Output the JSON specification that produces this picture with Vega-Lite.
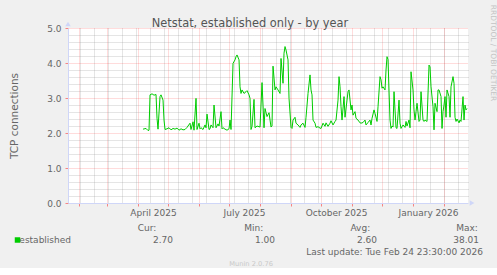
{
  "$schema": "https://vega.github.io/schema/vega-lite/v6.json",
  "background": "#f0f0f0",
  "padding": {"left": 9, "top": 4, "right": 8, "bottom": 0},
  "config": {"font": "DejaVu Sans", "view": {"stroke": null}},
  "bounds": "flush",
  "spacing": 25,
  "datasets": {
    "netstat": [
      {"date": "2025-04-06", "connections": 2.11}, {"date": "2025-04-09", "connections": 2.13}, {"date": "2025-04-11", "connections": 2.07}, {"date": "2025-04-12", "connections": 2.08},
      {"date": "2025-04-13", "connections": 3.09}, {"date": "2025-04-15", "connections": 3.12}, {"date": "2025-04-17", "connections": 3.08}, {"date": "2025-04-19", "connections": 3.10},
      {"date": "2025-04-20", "connections": 2.42}, {"date": "2025-04-21", "connections": 2.11}, {"date": "2025-04-23", "connections": 3.04}, {"date": "2025-04-24", "connections": 3.09},
      {"date": "2025-04-26", "connections": 2.94}, {"date": "2025-04-27", "connections": 2.37}, {"date": "2025-04-28", "connections": 2.10}, {"date": "2025-04-30", "connections": 2.12},
      {"date": "2025-05-02", "connections": 2.15}, {"date": "2025-05-04", "connections": 2.09}, {"date": "2025-05-06", "connections": 2.13}, {"date": "2025-05-08", "connections": 2.11},
      {"date": "2025-05-10", "connections": 2.14}, {"date": "2025-05-12", "connections": 2.08}, {"date": "2025-05-14", "connections": 2.12}, {"date": "2025-05-16", "connections": 2.09},
      {"date": "2025-05-18", "connections": 2.10}, {"date": "2025-05-20", "connections": 2.16}, {"date": "2025-05-23", "connections": 2.28}, {"date": "2025-05-24", "connections": 2.10},
      {"date": "2025-05-26", "connections": 2.32}, {"date": "2025-05-27", "connections": 2.08}, {"date": "2025-05-29", "connections": 2.99}, {"date": "2025-05-30", "connections": 2.10},
      {"date": "2025-06-01", "connections": 2.28}, {"date": "2025-06-02", "connections": 2.12}, {"date": "2025-06-03", "connections": 2.15}, {"date": "2025-06-05", "connections": 2.10},
      {"date": "2025-06-07", "connections": 2.23}, {"date": "2025-06-08", "connections": 2.15}, {"date": "2025-06-09", "connections": 2.54}, {"date": "2025-06-11", "connections": 2.10},
      {"date": "2025-06-12", "connections": 2.12}, {"date": "2025-06-13", "connections": 2.23}, {"date": "2025-06-15", "connections": 2.15}, {"date": "2025-06-16", "connections": 2.80},
      {"date": "2025-06-18", "connections": 2.15}, {"date": "2025-06-20", "connections": 2.26}, {"date": "2025-06-21", "connections": 2.20}, {"date": "2025-06-23", "connections": 2.61},
      {"date": "2025-06-24", "connections": 2.12}, {"date": "2025-06-25", "connections": 2.15}, {"date": "2025-06-27", "connections": 2.11}, {"date": "2025-06-29", "connections": 2.08},
      {"date": "2025-07-01", "connections": 2.12}, {"date": "2025-07-02", "connections": 2.37}, {"date": "2025-07-03", "connections": 2.10}, {"date": "2025-07-05", "connections": 3.99},
      {"date": "2025-07-07", "connections": 4.09}, {"date": "2025-07-08", "connections": 4.18}, {"date": "2025-07-09", "connections": 4.23}, {"date": "2025-07-11", "connections": 4.09},
      {"date": "2025-07-12", "connections": 3.32}, {"date": "2025-07-13", "connections": 3.13}, {"date": "2025-07-14", "connections": 3.23}, {"date": "2025-07-16", "connections": 3.13},
      {"date": "2025-07-18", "connections": 3.18}, {"date": "2025-07-19", "connections": 3.21}, {"date": "2025-07-21", "connections": 3.09}, {"date": "2025-07-22", "connections": 2.99},
      {"date": "2025-07-23", "connections": 2.10}, {"date": "2025-07-24", "connections": 2.19}, {"date": "2025-07-26", "connections": 2.96}, {"date": "2025-07-27", "connections": 2.15},
      {"date": "2025-07-29", "connections": 2.20}, {"date": "2025-07-30", "connections": 2.19}, {"date": "2025-08-01", "connections": 2.17}, {"date": "2025-08-03", "connections": 3.44},
      {"date": "2025-08-05", "connections": 2.15}, {"date": "2025-08-06", "connections": 2.70}, {"date": "2025-08-08", "connections": 2.47}, {"date": "2025-08-10", "connections": 2.58},
      {"date": "2025-08-12", "connections": 2.17}, {"date": "2025-08-13", "connections": 2.20}, {"date": "2025-08-14", "connections": 3.91}, {"date": "2025-08-16", "connections": 3.23},
      {"date": "2025-08-17", "connections": 3.32}, {"date": "2025-08-19", "connections": 3.23}, {"date": "2025-08-21", "connections": 3.13}, {"date": "2025-08-22", "connections": 4.13},
      {"date": "2025-08-24", "connections": 3.42}, {"date": "2025-08-25", "connections": 4.28}, {"date": "2025-08-26", "connections": 4.47}, {"date": "2025-08-27", "connections": 4.37},
      {"date": "2025-08-29", "connections": 4.09}, {"date": "2025-08-30", "connections": 2.99}, {"date": "2025-09-01", "connections": 2.16}, {"date": "2025-09-02", "connections": 2.13},
      {"date": "2025-09-03", "connections": 2.37}, {"date": "2025-09-05", "connections": 2.45}, {"date": "2025-09-06", "connections": 2.28}, {"date": "2025-09-08", "connections": 2.23},
      {"date": "2025-09-10", "connections": 2.16}, {"date": "2025-09-11", "connections": 2.23}, {"date": "2025-09-13", "connections": 2.28}, {"date": "2025-09-15", "connections": 2.16},
      {"date": "2025-09-16", "connections": 2.45}, {"date": "2025-09-18", "connections": 3.13}, {"date": "2025-09-20", "connections": 3.66}, {"date": "2025-09-21", "connections": 3.23},
      {"date": "2025-09-22", "connections": 3.09}, {"date": "2025-09-23", "connections": 2.37}, {"date": "2025-09-25", "connections": 2.28}, {"date": "2025-09-26", "connections": 2.16},
      {"date": "2025-09-28", "connections": 2.18}, {"date": "2025-09-30", "connections": 2.14}, {"date": "2025-10-01", "connections": 2.13}, {"date": "2025-10-03", "connections": 2.28},
      {"date": "2025-10-05", "connections": 2.19}, {"date": "2025-10-06", "connections": 2.29}, {"date": "2025-10-08", "connections": 2.19}, {"date": "2025-10-10", "connections": 2.28},
      {"date": "2025-10-11", "connections": 2.35}, {"date": "2025-10-13", "connections": 2.23}, {"date": "2025-10-15", "connections": 2.33}, {"date": "2025-10-16", "connections": 2.37},
      {"date": "2025-10-18", "connections": 2.94}, {"date": "2025-10-19", "connections": 3.61}, {"date": "2025-10-20", "connections": 3.32}, {"date": "2025-10-21", "connections": 2.75},
      {"date": "2025-10-22", "connections": 2.37}, {"date": "2025-10-24", "connections": 3.04}, {"date": "2025-10-25", "connections": 2.45}, {"date": "2025-10-27", "connections": 2.94},
      {"date": "2025-10-28", "connections": 3.18}, {"date": "2025-10-29", "connections": 3.23}, {"date": "2025-10-31", "connections": 2.66}, {"date": "2025-11-01", "connections": 2.80},
      {"date": "2025-11-02", "connections": 2.51}, {"date": "2025-11-04", "connections": 2.61}, {"date": "2025-11-05", "connections": 2.42}, {"date": "2025-11-07", "connections": 2.37},
      {"date": "2025-11-09", "connections": 2.29}, {"date": "2025-11-10", "connections": 2.28}, {"date": "2025-11-12", "connections": 2.30}, {"date": "2025-11-14", "connections": 2.37},
      {"date": "2025-11-15", "connections": 2.23}, {"date": "2025-11-17", "connections": 2.30}, {"date": "2025-11-19", "connections": 2.37}, {"date": "2025-11-20", "connections": 2.23},
      {"date": "2025-11-21", "connections": 2.42}, {"date": "2025-11-23", "connections": 2.66}, {"date": "2025-11-24", "connections": 2.56}, {"date": "2025-11-26", "connections": 2.33},
      {"date": "2025-11-27", "connections": 2.75}, {"date": "2025-11-29", "connections": 3.61}, {"date": "2025-11-30", "connections": 3.52}, {"date": "2025-12-01", "connections": 3.28},
      {"date": "2025-12-02", "connections": 3.32}, {"date": "2025-12-04", "connections": 3.23}, {"date": "2025-12-05", "connections": 3.80}, {"date": "2025-12-06", "connections": 4.18},
      {"date": "2025-12-07", "connections": 4.10}, {"date": "2025-12-08", "connections": 3.20}, {"date": "2025-12-09", "connections": 2.37}, {"date": "2025-12-10", "connections": 2.13},
      {"date": "2025-12-11", "connections": 2.20}, {"date": "2025-12-12", "connections": 2.17}, {"date": "2025-12-13", "connections": 3.18}, {"date": "2025-12-15", "connections": 2.15},
      {"date": "2025-12-16", "connections": 2.13}, {"date": "2025-12-18", "connections": 2.94}, {"date": "2025-12-19", "connections": 2.28}, {"date": "2025-12-20", "connections": 2.13},
      {"date": "2025-12-22", "connections": 2.23}, {"date": "2025-12-24", "connections": 2.16}, {"date": "2025-12-25", "connections": 2.33}, {"date": "2025-12-26", "connections": 2.20},
      {"date": "2025-12-28", "connections": 2.37}, {"date": "2025-12-29", "connections": 2.15}, {"date": "2025-12-30", "connections": 3.75}, {"date": "2026-01-01", "connections": 3.23},
      {"date": "2026-01-02", "connections": 2.66}, {"date": "2026-01-03", "connections": 2.37}, {"date": "2026-01-04", "connections": 2.61}, {"date": "2026-01-05", "connections": 2.85},
      {"date": "2026-01-07", "connections": 2.33}, {"date": "2026-01-08", "connections": 2.37}, {"date": "2026-01-09", "connections": 3.18}, {"date": "2026-01-11", "connections": 2.37},
      {"date": "2026-01-12", "connections": 2.33}, {"date": "2026-01-13", "connections": 2.37}, {"date": "2026-01-15", "connections": 2.33}, {"date": "2026-01-17", "connections": 3.94},
      {"date": "2026-01-18", "connections": 3.89}, {"date": "2026-01-19", "connections": 3.32}, {"date": "2026-01-21", "connections": 2.75}, {"date": "2026-01-22", "connections": 2.09},
      {"date": "2026-01-23", "connections": 2.85}, {"date": "2026-01-25", "connections": 2.61}, {"date": "2026-01-26", "connections": 3.23}, {"date": "2026-01-27", "connections": 3.23},
      {"date": "2026-01-29", "connections": 3.04}, {"date": "2026-01-30", "connections": 2.13}, {"date": "2026-01-31", "connections": 2.61}, {"date": "2026-02-01", "connections": 2.80},
      {"date": "2026-02-02", "connections": 3.04}, {"date": "2026-02-03", "connections": 2.45}, {"date": "2026-02-04", "connections": 3.23}, {"date": "2026-02-06", "connections": 3.04},
      {"date": "2026-02-07", "connections": 2.45}, {"date": "2026-02-08", "connections": 3.32}, {"date": "2026-02-10", "connections": 3.61}, {"date": "2026-02-11", "connections": 3.42},
      {"date": "2026-02-12", "connections": 2.45}, {"date": "2026-02-13", "connections": 2.33}, {"date": "2026-02-14", "connections": 2.40}, {"date": "2026-02-16", "connections": 2.29},
      {"date": "2026-02-17", "connections": 2.37}, {"date": "2026-02-18", "connections": 2.33}, {"date": "2026-02-20", "connections": 3.04}, {"date": "2026-02-21", "connections": 2.37},
      {"date": "2026-02-22", "connections": 2.80}, {"date": "2026-02-23", "connections": 2.66}, {"date": "2026-02-24", "connections": 2.70}
    ],
    "stats": [
      {"kind": "header", "col": "cur", "row": "h", "text": "Cur:"},
      {"kind": "header", "col": "min", "row": "h", "text": "Min:"},
      {"kind": "header", "col": "avg", "row": "h", "text": "Avg:"},
      {"kind": "header", "col": "max", "row": "h", "text": "Max:"},
      {"kind": "value", "col": "name", "row": "v", "text": "established"},
      {"kind": "value", "col": "cur", "row": "v", "text": "2.70"},
      {"kind": "value", "col": "min", "row": "v", "text": "1.00"},
      {"kind": "value", "col": "avg", "row": "v", "text": "2.60"},
      {"kind": "value", "col": "max", "row": "v", "text": "38.01"},
      {"kind": "swatch", "col": "name", "row": "v", "text": "established"},
      {"kind": "update", "col": "max", "row": "u", "text": "Last update: Tue Feb 24 23:30:00 2026"},
      {"kind": "footer", "col": "min", "row": "m", "text": "Munin 2.0.76"}
    ]
  },
  "vconcat": [
    {
      "width": 400,
      "height": 175,
      "view": {"fill": "white", "stroke": null},
      "data": {"name": "netstat"},
      "layer": [
        {
          "mark": {"type": "line", "opacity": 0},
          "encoding": {
            "x": {
              "field": "date", "type": "temporal",
              "scale": {"type": "utc", "nice": false, "domain": [{"year": 2025, "month": 1, "date": 20, "hours": 23, "minutes": 30, "utc": true}, {"year": 2026, "month": 2, "date": 24, "hours": 23, "minutes": 30, "utc": true}]},
              "axis": {
                "orient": "top",
                "values": [
                  {"year": 2025, "month": 2, "date": 2, "utc": true}, {"year": 2025, "month": 2, "date": 16, "utc": true},
                  {"year": 2025, "month": 3, "date": 2, "utc": true}, {"year": 2025, "month": 3, "date": 16, "utc": true}, {"year": 2025, "month": 3, "date": 30, "utc": true},
                  {"year": 2025, "month": 4, "date": 13, "utc": true}, {"year": 2025, "month": 4, "date": 27, "utc": true},
                  {"year": 2025, "month": 5, "date": 11, "utc": true}, {"year": 2025, "month": 5, "date": 25, "utc": true},
                  {"year": 2025, "month": 6, "date": 8, "utc": true}, {"year": 2025, "month": 6, "date": 22, "utc": true},
                  {"year": 2025, "month": 7, "date": 6, "utc": true}, {"year": 2025, "month": 7, "date": 20, "utc": true},
                  {"year": 2025, "month": 8, "date": 3, "utc": true}, {"year": 2025, "month": 8, "date": 17, "utc": true}, {"year": 2025, "month": 8, "date": 31, "utc": true},
                  {"year": 2025, "month": 9, "date": 14, "utc": true}, {"year": 2025, "month": 9, "date": 28, "utc": true},
                  {"year": 2025, "month": 10, "date": 12, "utc": true}, {"year": 2025, "month": 10, "date": 26, "utc": true},
                  {"year": 2025, "month": 11, "date": 9, "utc": true}, {"year": 2025, "month": 11, "date": 23, "utc": true},
                  {"year": 2025, "month": 12, "date": 7, "utc": true}, {"year": 2025, "month": 12, "date": 21, "utc": true},
                  {"year": 2026, "month": 1, "date": 4, "utc": true}, {"year": 2026, "month": 1, "date": 18, "utc": true},
                  {"year": 2026, "month": 2, "date": 1, "utc": true}, {"year": 2026, "month": 2, "date": 15, "utc": true}
                ],
                "grid": true, "gridColor": "#8c8c8c", "gridOpacity": 0.45, "gridDash": [1, 1],
                "labels": false, "ticks": false, "domain": false,
                "title": "Netstat, established only - by year",
                "titleFontSize": 11.4, "titleFontWeight": "normal", "titleColor": "#555555",
                "titleX": 181.5, "titleY": -2, "titleAlign": "center", "titleBaseline": "alphabetic", "titleAngle": 0
              }
            },
            "y": {
              "field": "connections", "type": "quantitative",
              "scale": {"domain": [0, 5], "nice": false},
              "axis": {
                "orient": "right",
                "values": [0.2, 0.4, 0.6, 0.8, 1.2, 1.4, 1.6, 1.8, 2.2, 2.4, 2.6, 2.8, 3.2, 3.4, 3.6, 3.8, 4.2, 4.4, 4.6, 4.8],
                "grid": true, "gridColor": "#8c8c8c", "gridOpacity": 0.45, "gridDash": [1, 1],
                "labels": false, "ticks": false, "domain": false,
                "title": "RRDTOOL / TOBI OETIKER",
                "titleFontSize": 7.5, "titleFontWeight": "normal", "titleColor": "#c4c4c4",
                "titleAngle": 90, "titleX": 24, "titleY": 24.5, "titleAlign": "center", "titleBaseline": "middle"
              }
            }
          }
        },
        {
          "mark": {"type": "line", "color": "#00cc00", "strokeWidth": 1},
          "encoding": {
            "x": {
              "field": "date", "type": "temporal",
              "scale": {"type": "utc", "nice": false, "domain": [{"year": 2025, "month": 1, "date": 20, "hours": 23, "minutes": 30, "utc": true}, {"year": 2026, "month": 2, "date": 24, "hours": 23, "minutes": 30, "utc": true}]},
              "axis": {
                "values": [
                  {"year": 2025, "month": 2, "date": 1, "utc": true}, {"year": 2025, "month": 3, "date": 1, "utc": true}, {"year": 2025, "month": 4, "date": 1, "utc": true},
                  {"year": 2025, "month": 5, "date": 1, "utc": true}, {"year": 2025, "month": 6, "date": 1, "utc": true}, {"year": 2025, "month": 7, "date": 1, "utc": true},
                  {"year": 2025, "month": 8, "date": 1, "utc": true}, {"year": 2025, "month": 9, "date": 1, "utc": true}, {"year": 2025, "month": 10, "date": 1, "utc": true},
                  {"year": 2025, "month": 11, "date": 1, "utc": true}, {"year": 2025, "month": 12, "date": 1, "utc": true}, {"year": 2026, "month": 1, "date": 1, "utc": true},
                  {"year": 2026, "month": 2, "date": 1, "utc": true}
                ],
                "labelExpr": "utcmonth(datum.value) % 3 == 0 ? utcFormat(datum.value, '%B %Y') : ''",
                "labelOffset": 15, "labelFontSize": 9, "labelColor": "#666666", "labelPadding": 2,
                "labelOverlap": false, "labelFlush": false, "labelBound": false,
                "grid": true, "gridColor": "#ff0000", "gridOpacity": 0.28, "gridDash": [1, 1],
                "ticks": true, "tickColor": "#ff0000", "tickOpacity": 0.45, "tickSize": 3,
                "domain": true, "domainColor": "#cfd6f8", "title": null
              }
            },
            "y": {
              "field": "connections", "type": "quantitative",
              "scale": {"domain": [0, 5], "nice": false},
              "axis": {
                "values": [0, 1, 2, 3, 4, 5], "format": ".1f",
                "labelFontSize": 9, "labelColor": "#666666", "labelPadding": 4,
                "grid": true, "gridColor": "#ff0000", "gridOpacity": 0.28, "gridDash": [1, 1],
                "ticks": true, "tickColor": "#ff0000", "tickOpacity": 0.45, "tickSize": 3,
                "domain": true, "domainColor": "#cfd6f8",
                "title": "TCP connections", "titleFontSize": 10.5, "titleFontWeight": "normal", "titleColor": "#666666", "titlePadding": 27
              }
            }
          }
        },
        {
          "data": {"values": [{"arrow": "y"}]},
          "mark": {"type": "point", "shape": "triangle-up", "filled": true, "color": "#cfd6f8", "opacity": 1, "size": 30, "yOffset": -4},
          "encoding": {
            "x": {"datum": {"year": 2025, "month": 1, "date": 20, "hours": 23, "minutes": 30, "utc": true}, "type": "temporal", "axis": null,
              "scale": {"type": "utc", "nice": false, "domain": [{"year": 2025, "month": 1, "date": 20, "hours": 23, "minutes": 30, "utc": true}, {"year": 2026, "month": 2, "date": 24, "hours": 23, "minutes": 30, "utc": true}]}},
            "y": {"datum": 5, "type": "quantitative", "axis": null, "scale": {"domain": [0, 5], "nice": false}}
          }
        },
        {
          "data": {"values": [{"arrow": "x"}]},
          "mark": {"type": "point", "shape": "triangle-right", "filled": true, "color": "#cfd6f8", "opacity": 1, "size": 30, "xOffset": 4},
          "encoding": {
            "x": {"datum": {"year": 2026, "month": 2, "date": 24, "hours": 23, "minutes": 30, "utc": true}, "type": "temporal", "axis": null,
              "scale": {"type": "utc", "nice": false, "domain": [{"year": 2025, "month": 1, "date": 20, "hours": 23, "minutes": 30, "utc": true}, {"year": 2026, "month": 2, "date": 24, "hours": 23, "minutes": 30, "utc": true}]}},
            "y": {"datum": 0, "type": "quantitative", "axis": null, "scale": {"domain": [0, 5], "nice": false}}
          }
        }
      ],
      "resolve": {"axis": {"x": "independent", "y": "independent"}}
    },
    {
      "width": 400,
      "height": 36,
      "view": {"fill": null, "stroke": null},
      "data": {"name": "stats"},
      "layer": [
        {
          "transform": [{"filter": "datum.kind == 'header'"}],
          "mark": {"type": "text", "align": "center", "baseline": "middle", "fontSize": 9, "color": "#666666"},
          "encoding": {
            "x": {"field": "col", "type": "nominal", "axis": null, "scale": {"type": "point", "domain": ["cur", "min", "avg", "max"], "range": [79, 399], "padding": 0}},
            "y": {"field": "row", "type": "nominal", "axis": null, "scale": {"type": "point", "domain": ["h", "v", "u", "m"], "padding": 0}},
            "text": {"field": "text"}
          }
        },
        {
          "transform": [{"filter": "datum.kind == 'value'"}],
          "mark": {"type": "text", "align": "right", "baseline": "middle", "fontSize": 9, "color": "#666666"},
          "encoding": {
            "x": {"field": "col", "type": "nominal", "axis": null, "scale": {"type": "point", "domain": ["name", "cur", "min", "avg", "max"], "range": [3, 411], "padding": 0}},
            "y": {"field": "row", "type": "nominal", "axis": null, "scale": {"type": "point", "domain": ["h", "v", "u", "m"], "padding": 0}},
            "text": {"field": "text"}
          }
        },
        {
          "transform": [{"filter": "datum.kind == 'swatch'"}],
          "mark": {"type": "point", "shape": "square", "filled": true, "color": "#00cc00", "opacity": 1, "size": 30, "xOffset": -53.5},
          "encoding": {
            "x": {"field": "col", "type": "nominal", "axis": null, "scale": {"type": "point", "domain": ["name", "cur", "min", "avg", "max"], "range": [3, 411], "padding": 0}},
            "y": {"field": "row", "type": "nominal", "axis": null, "scale": {"type": "point", "domain": ["h", "v", "u", "m"], "padding": 0}}
          }
        },
        {
          "transform": [{"filter": "datum.kind == 'update'"}],
          "mark": {"type": "text", "align": "right", "baseline": "middle", "fontSize": 9, "color": "#666666", "dx": 4},
          "encoding": {
            "x": {"field": "col", "type": "nominal", "axis": null, "scale": {"type": "point", "domain": ["name", "cur", "min", "avg", "max"], "range": [3, 411], "padding": 0}},
            "y": {"field": "row", "type": "nominal", "axis": null, "scale": {"type": "point", "domain": ["h", "v", "u", "m"], "padding": 0}},
            "text": {"field": "text"}
          }
        },
        {
          "transform": [{"filter": "datum.kind == 'footer'"}],
          "mark": {"type": "text", "align": "right", "baseline": "middle", "fontSize": 6.7, "color": "#c8c8c8", "dx": -2},
          "encoding": {
            "x": {"field": "col", "type": "nominal", "axis": null, "scale": {"type": "point", "domain": ["name", "cur", "min", "avg", "max"], "range": [3, 411], "padding": 0}},
            "y": {"field": "row", "type": "nominal", "axis": null, "scale": {"type": "point", "domain": ["h", "v", "u", "m"], "padding": 0}},
            "text": {"field": "text"}
          }
        }
      ],
      "resolve": {"scale": {"x": "independent"}}
    }
  ]
}
